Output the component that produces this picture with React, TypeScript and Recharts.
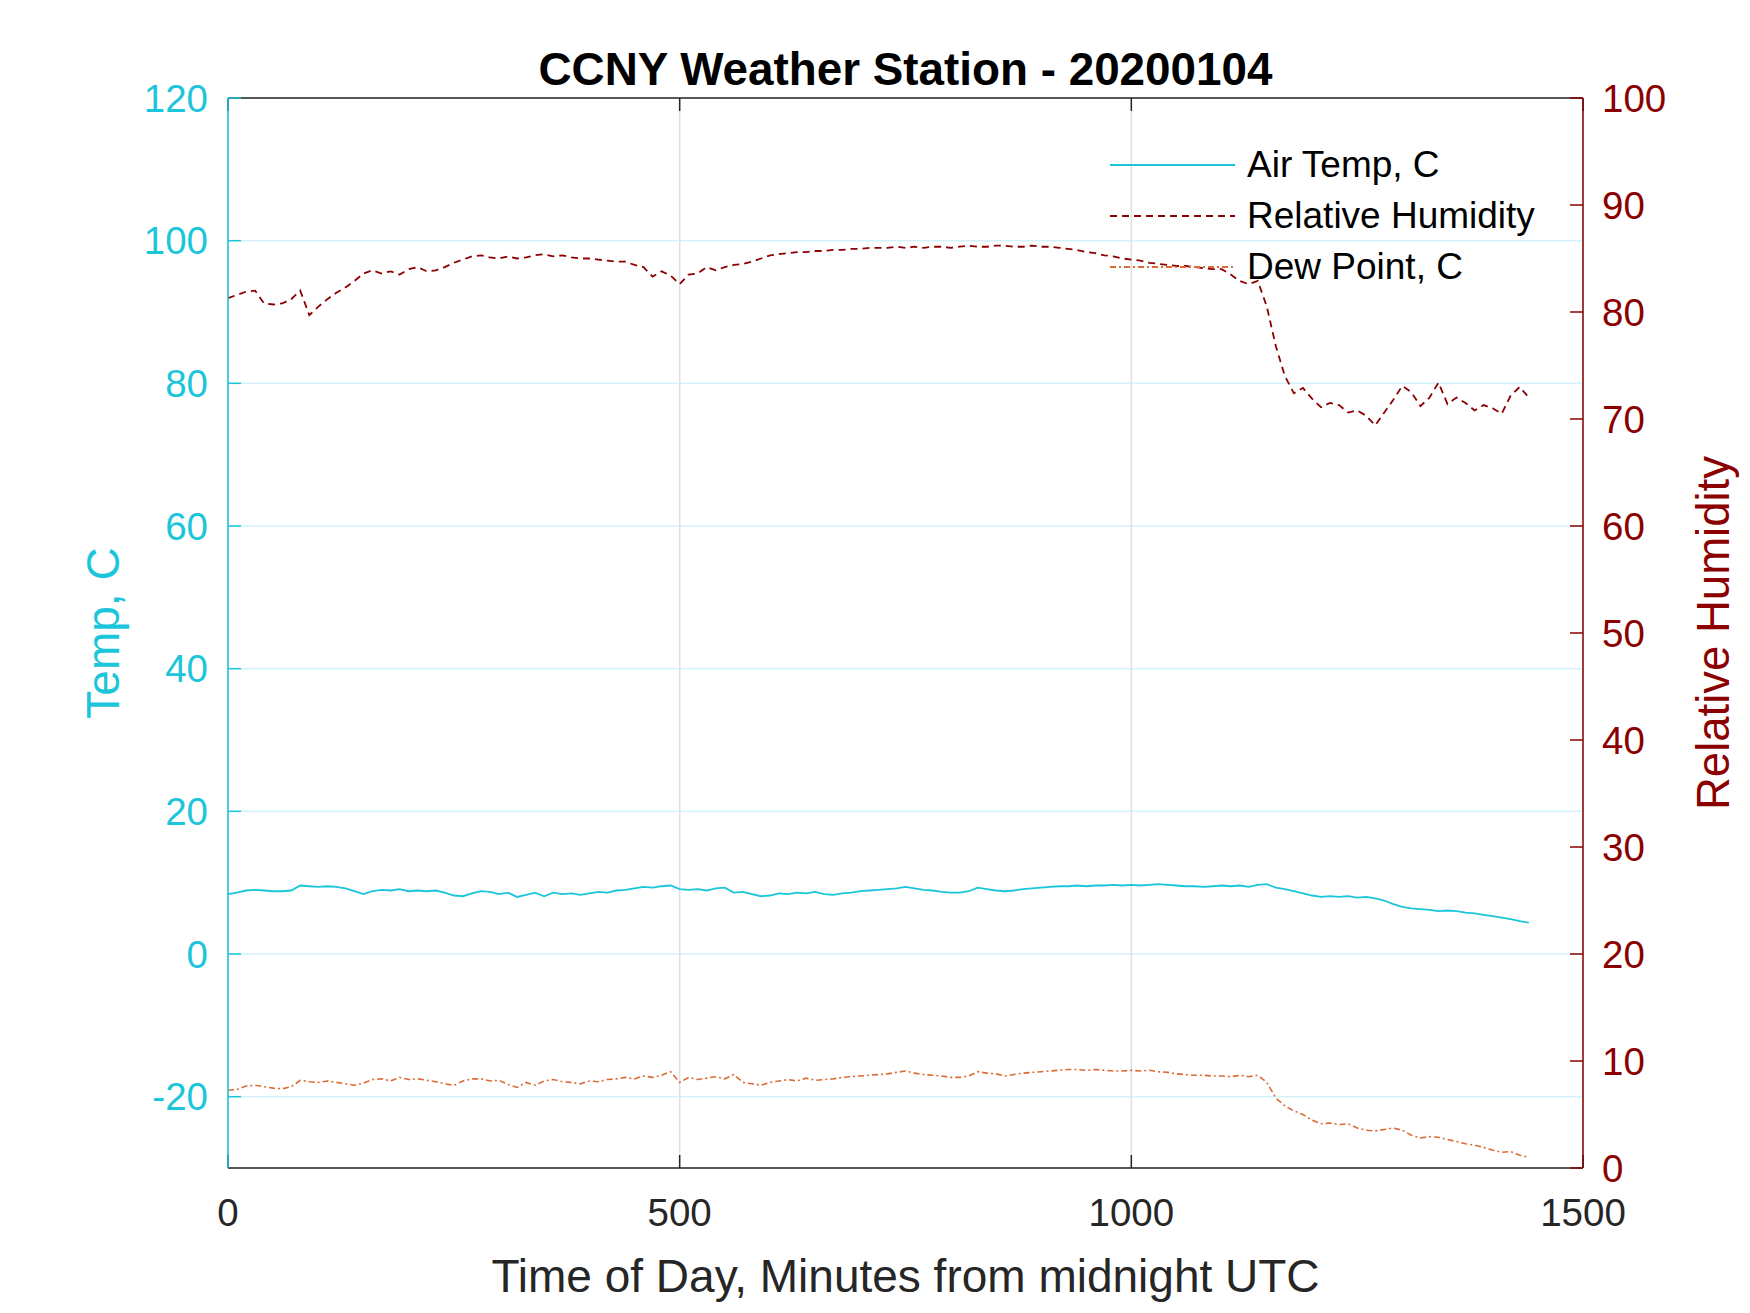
import { LineChart, Line, XAxis, YAxis, CartesianGrid, Legend } from 'recharts'

// sample times, minutes from midnight UTC
const minutes = [
  0, 10, 20, 30, 40, 50, 60, 70, 80, 90, 100, 110, 120, 130, 140,
  150, 160, 170, 180, 190, 200, 210, 220, 230, 240, 250, 260, 270, 280, 290,
  300, 310, 320, 330, 340, 350, 360, 370, 380, 390, 400, 410, 420, 430, 440,
  450, 460, 470, 480, 490, 500, 510, 520, 530, 540, 550, 560, 570, 580, 590,
  600, 610, 620, 630, 640, 650, 660, 670, 680, 690, 700, 710, 720, 730, 740,
  750, 760, 770, 780, 790, 800, 810, 820, 830, 840, 850, 860, 870, 880, 890,
  900, 910, 920, 930, 940, 950, 960, 970, 980, 990, 1000, 1010, 1020, 1030, 1040,
  1050, 1060, 1070, 1080, 1090, 1100, 1110, 1120, 1130, 1140, 1150, 1160, 1170, 1180, 1190,
  1200, 1210, 1220, 1230, 1240, 1250, 1260, 1270, 1280, 1290, 1300, 1310, 1320, 1330, 1340,
  1350, 1360, 1370, 1380, 1390, 1400, 1410, 1420, 1430, 1440,
]

const airTemp = [
  8.4, 8.6, 8.9, 9.0, 8.9, 8.8, 8.8, 8.9, 9.6, 9.5, 9.4, 9.5, 9.4, 9.2, 8.8,
  8.4, 8.8, 9.0, 8.9, 9.1, 8.8, 8.9, 8.8, 8.9, 8.6, 8.2, 8.1, 8.5, 8.8, 8.7,
  8.4, 8.6, 8.0, 8.3, 8.6, 8.1, 8.6, 8.4, 8.5, 8.3, 8.5, 8.7, 8.6, 8.9, 9.0,
  9.2, 9.4, 9.3, 9.5, 9.6, 9.1, 9.0, 9.1, 8.9, 9.2, 9.3, 8.6, 8.7, 8.4, 8.1,
  8.2, 8.5, 8.4, 8.6, 8.5, 8.7, 8.4, 8.3, 8.5, 8.6, 8.8, 8.9, 9.0, 9.1, 9.2,
  9.4, 9.2, 9.0, 8.9, 8.7, 8.6, 8.6, 8.8, 9.3, 9.1, 8.9, 8.8, 8.9, 9.1, 9.2,
  9.3, 9.4, 9.5, 9.5, 9.6, 9.5, 9.6, 9.6, 9.7, 9.6, 9.7, 9.6, 9.7, 9.8, 9.7,
  9.6, 9.5, 9.5, 9.4, 9.5, 9.6, 9.5, 9.6, 9.4, 9.7, 9.8, 9.3, 9.1, 8.8, 8.5,
  8.2, 8.0, 8.1, 8.0, 8.1, 7.9, 8.0, 7.8, 7.5, 7.0, 6.6, 6.4, 6.3, 6.2, 6.0,
  6.1, 6.0, 5.8, 5.7, 5.5, 5.3, 5.1, 4.9, 4.6, 4.4,
]

const relHumidity = [
  81.3, 81.6, 81.9, 82.0, 80.8, 80.7, 80.8, 81.2, 82.0, 79.7, 80.5, 81.2, 81.8, 82.3, 82.9,
  83.6, 83.9, 83.6, 83.8, 83.5, 84.0, 84.2, 83.8, 83.9, 84.2, 84.6, 84.9, 85.2, 85.3, 85.1,
  85.0, 85.2, 85.0, 85.1, 85.3, 85.4, 85.2, 85.3, 85.1, 85.0, 85.0, 84.9, 84.8, 84.7, 84.7,
  84.4, 84.2, 83.3, 83.8, 83.4, 82.6, 83.5, 83.6, 84.2, 83.9, 84.2, 84.4, 84.5, 84.7, 85.0,
  85.3, 85.4, 85.5, 85.6, 85.6, 85.7, 85.7, 85.8, 85.8, 85.9, 85.9, 86.0, 86.0, 86.0, 86.1,
  86.0, 86.1, 86.0, 86.1, 86.1, 86.0, 86.1, 86.2, 86.1, 86.1, 86.2, 86.2, 86.1, 86.1, 86.2,
  86.1, 86.1, 86.0, 85.9, 85.8, 85.6, 85.5, 85.3, 85.2, 85.0, 84.9, 84.8, 84.6, 84.5, 84.4,
  84.3, 84.3, 84.2, 84.1, 84.0, 84.0, 83.5, 82.9, 82.6, 82.9, 80.5, 76.8, 74.0, 72.4, 72.9,
  71.9, 71.1, 71.5, 71.3, 70.6, 70.8, 70.3, 69.4, 70.6, 71.8, 73.1, 72.5, 71.2, 72.0, 73.4,
  71.4, 72.0, 71.5, 70.8, 71.3, 71.0, 70.5, 72.2, 73.0, 72.0,
]

const dewPoint = [
  -19.1, -19.0, -18.5, -18.4, -18.6, -18.8, -18.9, -18.6, -17.7, -17.9, -18.0, -17.8, -18.0, -18.2, -18.4,
  -18.1, -17.6, -17.5, -17.8, -17.3, -17.6, -17.5, -17.7, -17.9, -18.2, -18.4, -17.8, -17.5, -17.5, -17.8,
  -17.7, -18.3, -18.7, -18.0, -18.4, -17.8, -17.6, -17.9, -18.0, -18.2, -17.8, -17.9, -17.6, -17.5, -17.3,
  -17.5, -17.1, -17.3, -17.0, -16.5, -18.0, -17.3, -17.6, -17.4, -17.2, -17.5, -16.9, -18.0, -18.2, -18.4,
  -18.0, -17.8, -17.6, -17.8, -17.4, -17.7, -17.6, -17.5, -17.3, -17.2, -17.1, -17.0, -16.9, -16.8, -16.6,
  -16.4, -16.7, -16.9, -17.0, -17.1, -17.3, -17.3, -17.1, -16.5, -16.7, -16.8, -17.1, -16.9, -16.7, -16.6,
  -16.5, -16.4, -16.3, -16.2, -16.2, -16.3, -16.2, -16.3, -16.4, -16.4, -16.3, -16.4, -16.3, -16.5, -16.6,
  -16.8, -16.9, -17.0, -17.0, -17.1, -17.1, -17.2, -17.0, -17.2, -17.0, -18.0, -20.2, -21.3, -22.0, -22.5,
  -23.3, -23.8, -23.7, -23.9, -23.8, -24.4, -24.7, -24.8, -24.6, -24.4, -24.7, -25.4, -25.8, -25.6, -25.7,
  -26.0, -26.3, -26.6, -26.8, -27.1, -27.5, -27.8, -27.7, -28.2, -28.5,
]

const timeTicks = [0, 500, 1000, 1500]
const tempTicks = [-20, 0, 20, 40, 60, 80, 100, 120]
const rhTicks = [0, 10, 20, 30, 40, 50, 60, 70, 80, 90, 100]

const CYAN = '#1BC5DA'
const DARK_RED = '#8B0000'
const ORANGE = '#DE6A36'
const AXIS_GRAY = '#262626'
const FONT = '"Liberation Sans", Arial, Helvetica, sans-serif'

const data = minutes.map((t, i) => ({
  t,
  air: airTemp[i],
  rh: relHumidity[i],
  dew: dewPoint[i],
}))

const legendItems = [
  { name: 'Air Temp, C', color: CYAN, dash: undefined },
  { name: 'Relative Humidity', color: DARK_RED, dash: '7 5' },
  { name: 'Dew Point, C', color: ORANGE, dash: '6 3 2 3' },
]

function LegendBox() {
  return (
    <div style={{ fontFamily: FONT, fontSize: 37, color: '#000' }}>
      {legendItems.map((item) => (
        <div key={item.name} style={{ display: 'flex', alignItems: 'center', height: 51 }}>
          <svg width={125} height={10} style={{ marginRight: 12, display: 'block' }}>
            <line x1={0} x2={125} y1={5} y2={5} stroke={item.color} strokeWidth={2} strokeDasharray={item.dash} />
          </svg>
          <span style={{ lineHeight: '51px', whiteSpace: 'nowrap' }}>{item.name}</span>
        </div>
      ))}
    </div>
  )
}

const plotBox = { x: 228, y: 98, width: 1355, height: 1070 }

const titleLabel = (props: any) => {
  const vb = props.viewBox ?? plotBox
  return (
    <text x={vb.x + vb.width / 2} y={85} textAnchor="middle" fontFamily={FONT} fontSize={45.8} fontWeight="bold" fill="#000">
      CCNY Weather Station - 20200104
    </text>
  )
}

const xLabel = (props: any) => {
  const vb = props.viewBox ?? plotBox
  return (
    <text x={vb.x + vb.width / 2} y={1292} textAnchor="middle" fontFamily={FONT} fontSize={46} fill={AXIS_GRAY}>
      Time of Day, Minutes from midnight UTC
    </text>
  )
}

const leftLabel = (props: any) => {
  const vb = props.viewBox ?? plotBox
  const cy = vb.y + vb.height / 2
  return (
    <text x={119} y={cy} transform={`rotate(-90 119 ${cy})`} textAnchor="middle" fontFamily={FONT} fontSize={46} fill={CYAN}>
      Temp, C
    </text>
  )
}

const rightLabel = (props: any) => {
  const vb = props.viewBox ?? plotBox
  const cy = vb.y + vb.height / 2
  return (
    <text x={1729} y={cy} transform={`rotate(-90 1729 ${cy})`} textAnchor="middle" fontFamily={FONT} fontSize={45.5} fill={DARK_RED}>
      Relative Humidity
    </text>
  )
}

export default function App() {
  return (
    <div style={{ position: 'absolute', left: 0, top: 0, background: '#fff' }}>
      <LineChart width={1750} height={1313} data={data} margin={{ top: 97, right: 67, bottom: 85, left: 128 }}>
        <CartesianGrid xAxisId="x" yAxisId="left" vertical={false} stroke="#D3F3F8" strokeWidth={1.5} />
        <CartesianGrid xAxisId="x" yAxisId="left" horizontal={false} stroke="#DCDFE3" strokeWidth={1.5} />
        <XAxis
          xAxisId="x"
          dataKey="t"
          type="number"
          domain={[0, 1500]}
          ticks={timeTicks}
          interval={0}
          height={60}
          tickSize={-13}
          tickMargin={44}
          tick={{ fill: AXIS_GRAY, fontSize: 38.5, fontFamily: FONT }}
          axisLine={{ stroke: AXIS_GRAY, strokeWidth: 1.5 }}
          tickLine={{ stroke: AXIS_GRAY, strokeWidth: 1.5 }}
          label={xLabel}
        />
        <XAxis
          xAxisId="top"
          dataKey="t"
          type="number"
          orientation="top"
          domain={[0, 1500]}
          ticks={timeTicks}
          interval={0}
          height={1}
          tickSize={-13}
          tickFormatter={() => ''}
          axisLine={{ stroke: AXIS_GRAY, strokeWidth: 1.5 }}
          tickLine={{ stroke: AXIS_GRAY, strokeWidth: 1.5 }}
          label={titleLabel}
        />
        <YAxis
          yAxisId="left"
          type="number"
          domain={[-30, 120]}
          ticks={tempTicks}
          interval={0}
          width={100}
          tickSize={-13}
          tickMargin={33}
          tick={{ fill: CYAN, fontSize: 38.5, fontFamily: FONT }}
          axisLine={{ stroke: CYAN, strokeWidth: 1.5 }}
          tickLine={{ stroke: CYAN, strokeWidth: 1.5 }}
          label={leftLabel}
        />
        <YAxis
          yAxisId="right"
          orientation="right"
          type="number"
          domain={[0, 100]}
          ticks={rhTicks}
          interval={0}
          width={100}
          tickSize={-13}
          tickMargin={32}
          tick={{ fill: DARK_RED, fontSize: 38.5, fontFamily: FONT }}
          axisLine={{ stroke: DARK_RED, strokeWidth: 1.5 }}
          tickLine={{ stroke: DARK_RED, strokeWidth: 1.5 }}
          label={rightLabel}
        />
        <Line
          xAxisId="x"
          yAxisId="left"
          dataKey="air"
          name="Air Temp, C"
          type="linear"
          stroke={CYAN}
          strokeWidth={1.8}
          dot={false}
          activeDot={false}
          isAnimationActive={false}
        />
        <Line
          xAxisId="x"
          yAxisId="right"
          dataKey="rh"
          name="Relative Humidity"
          type="linear"
          stroke={DARK_RED}
          strokeWidth={1.8}
          strokeDasharray="7 5"
          dot={false}
          activeDot={false}
          isAnimationActive={false}
        />
        <Line
          xAxisId="x"
          yAxisId="left"
          dataKey="dew"
          name="Dew Point, C"
          type="linear"
          stroke={ORANGE}
          strokeWidth={1.6}
          strokeDasharray="6 3 2 3"
          dot={false}
          activeDot={false}
          isAnimationActive={false}
        />
        <Legend
          layout="vertical"
          align="center"
          verticalAlign="middle"
          content={<LegendBox />}
          wrapperStyle={{ left: 1110, top: 139, width: 'auto' }}
        />
      </LineChart>
    </div>
  )
}
